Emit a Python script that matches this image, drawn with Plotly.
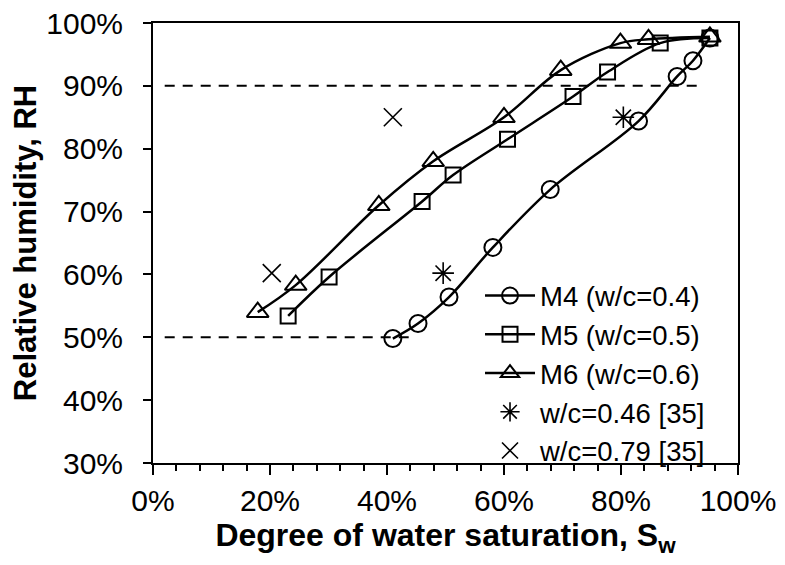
import plotly.graph_objects as go

# Data (percent)
M4_X = [41.0, 45.3, 50.6, 58.1, 67.9, 83.0, 89.6, 92.3, 95.2]
M4_Y = [49.8, 52.2, 56.4, 64.3, 73.5, 84.4, 91.5, 94.0, 97.6]
M5_X = [23.1, 30.1, 46.0, 51.3, 60.6, 71.8, 77.7, 86.7, 95.2]
M5_Y = [53.4, 59.6, 71.6, 75.8, 81.5, 88.3, 92.2, 96.8, 97.6]
M6_X = [17.9, 24.4, 38.6, 47.9, 60.0, 69.7, 79.9, 84.7, 95.2]
M6_Y = [54.0, 58.3, 71.0, 78.0, 85.0, 92.5, 96.8, 97.4, 97.8]
REF046_X = [49.6, 80.4]
REF046_Y = [60.2, 85.0]
REF079_X = [20.3, 41.0]
REF079_Y = [60.2, 85.0]
DASH90_X = [2, 93]
DASH90_Y = [90, 90]
DASH50_X = [2, 45]
DASH50_Y = [50, 50]

X_TICKS = [0, 20, 40, 60, 80, 100]
X_TICKTEXT = ["0%", "20%", "40%", "60%", "80%", "100%"]
Y_TICKS = [30, 40, 50, 60, 70, 80, 90, 100]
Y_TICKTEXT = ["30%", "40%", "50%", "60%", "70%", "80%", "90%", "100%"]

FONT = "Liberation Sans, Arial, sans-serif"

fig = go.Figure()

for dx, dy in [(DASH90_X, DASH90_Y), (DASH50_X, DASH50_Y)]:
    fig.add_trace(go.Scatter(x=dx, y=dy, mode="lines", showlegend=False,
                             line=dict(color="black", width=2, dash="10px,8px"),
                             hoverinfo="skip"))

series = [
    ("M4 (w/c=0.4)", M4_X, M4_Y, "circle-open", 17),
    ("M5 (w/c=0.5)", M5_X, M5_Y, "square-open", 15),
    ("M6 (w/c=0.6)", M6_X, M6_Y, "triangle-up-open", 19),
]
for i, (name, xs, ys, sym, sz) in enumerate(series):
    fig.add_trace(go.Scatter(
        x=xs, y=ys, mode="lines+markers", name=name, legendgroup=f"g{i}",
        line=dict(color="black", width=2.5, shape="spline", smoothing=1.0),
        marker=dict(symbol=sym, size=sz, color="black", line=dict(width=2, color="black")),
    ))

fig.add_trace(go.Scatter(
    x=REF046_X, y=REF046_Y, mode="markers", name="w/c=0.46 [35]", legendgroup="g3",
    marker=dict(symbol="asterisk-open", size=18, color="black", line=dict(width=1.6, color="black")),
))
fig.add_trace(go.Scatter(
    x=REF079_X, y=REF079_Y, mode="markers", name="w/c=0.79 [35]", legendgroup="g4",
    marker=dict(symbol="x-thin-open", size=18, color="black", line=dict(width=1.6, color="black")),
))

fig.update_layout(
    width=785, height=565,
    margin=dict(l=145, r=55, t=15, b=110, autoexpand=False),
    paper_bgcolor="white", plot_bgcolor="white",
    font=dict(family=FONT, color="black", size=28),
    legend=dict(x=0.559, y=0.436, xanchor="left", yanchor="top",
                bgcolor="rgba(0,0,0,0)", font=dict(size=27.5, family=FONT),
                tracegroupgap=0, itemwidth=50),
)
fig.update_xaxes(
    range=[0, 100], tickvals=X_TICKS, ticktext=X_TICKTEXT,
    showline=True, linecolor="black", linewidth=2, mirror=True,
    ticks="outside", ticklen=10, tickwidth=2, tickcolor="black",
    minor=dict(dtick=4, ticks="outside", ticklen=6, tickwidth=2, tickcolor="black"),
    showgrid=False, zeroline=False, ticklabeloverflow="allow",
    tickfont=dict(size=30, family=FONT),
    title=dict(text="<b>Degree of water saturation, S<sub>w</sub></b>",
               font=dict(size=32, family=FONT), standoff=8),
)
fig.update_yaxes(
    range=[30, 100], tickvals=Y_TICKS, ticktext=Y_TICKTEXT,
    showline=True, linecolor="black", linewidth=2, mirror=True,
    ticks="outside", ticklen=8, tickwidth=2, tickcolor="black",
    ticklabelstandoff=14, ticklabeloverflow="allow",
    showgrid=False, zeroline=False,
    tickfont=dict(size=30, family=FONT),
    title=dict(text="<b>Relative humidity, RH</b>",
               font=dict(size=31, family=FONT), standoff=18),
)

fig.write_html("out.html")
